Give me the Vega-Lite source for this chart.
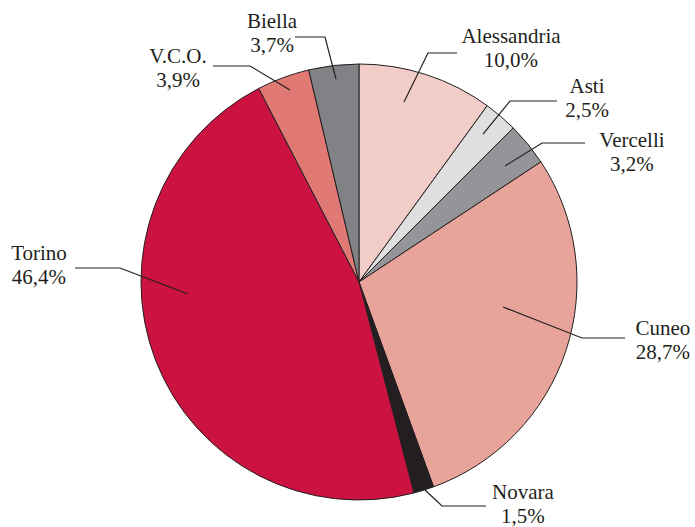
{
  "$schema": "https://vega.github.io/schema/vega-lite/v6.json",
  "width": 672,
  "height": 490,
  "padding": {"left": 23, "top": 37, "right": 0, "bottom": 0},
  "autosize": {"type": "none"},
  "background": "white",
  "config": {"view": {"stroke": null}},
  "datasets": {
    "slices": [
      {"provincia": "Alessandria", "quota": 10.0, "ord": 1},
      {"provincia": "Asti", "quota": 2.5, "ord": 2},
      {"provincia": "Vercelli", "quota": 3.2, "ord": 3},
      {"provincia": "Cuneo", "quota": 28.7, "ord": 4},
      {"provincia": "Novara", "quota": 1.5, "ord": 5},
      {"provincia": "Torino", "quota": 46.4, "ord": 6},
      {"provincia": "V.C.O.", "quota": 3.9, "ord": 7},
      {"provincia": "Biella", "quota": 3.7, "ord": 8}
    ],
    "labels": [
      {"provincia": "Alessandria", "lab": "Alessandria\n10,0%", "u": 69.72, "v": 109.63},
      {"provincia": "Asti", "lab": "Asti\n2,5%", "u": 104.6, "v": 86.7},
      {"provincia": "Vercelli", "lab": "Vercelli\n3,2%", "u": 125.2, "v": 61.9},
      {"provincia": "Cuneo", "lab": "Cuneo\n28,7%", "u": 139.4, "v": -24.3},
      {"provincia": "Novara", "lab": "Novara\n1,5%", "u": 75.2, "v": -99.5},
      {"provincia": "Torino", "lab": "Torino\n46,4%", "u": -146.8, "v": 10.1},
      {"provincia": "V.C.O.", "lab": "V.C.O.\n3,9%", "u": -83.0, "v": 100.5},
      {"provincia": "Biella", "lab": "Biella\n3,7%", "u": -39.9, "v": 116.5}
    ],
    "leaders": [
      {"provincia": "Alessandria", "p": 1, "u": 20.64, "v": 82.57},
      {"provincia": "Alessandria", "p": 2, "u": 31.65, "v": 105.05},
      {"provincia": "Alessandria", "p": 3, "u": 44.95, "v": 105.05},
      {"provincia": "Asti", "p": 1, "u": 56.88, "v": 67.89},
      {"provincia": "Asti", "p": 2, "u": 69.27, "v": 83.03},
      {"provincia": "Asti", "p": 3, "u": 90.83, "v": 83.03},
      {"provincia": "Vercelli", "p": 1, "u": 66.97, "v": 53.21},
      {"provincia": "Vercelli", "p": 2, "u": 83.94, "v": 63.76},
      {"provincia": "Vercelli", "p": 3, "u": 103.67, "v": 63.76},
      {"provincia": "Cuneo", "p": 1, "u": 66.06, "v": -11.47},
      {"provincia": "Cuneo", "p": 2, "u": 102.29, "v": -25.69},
      {"provincia": "Cuneo", "p": 3, "u": 122.02, "v": -25.69},
      {"provincia": "Novara", "p": 1, "u": 30.28, "v": -95.41},
      {"provincia": "Novara", "p": 2, "u": 38.07, "v": -102.75},
      {"provincia": "Novara", "p": 3, "u": 58.26, "v": -102.75},
      {"provincia": "Torino", "p": 1, "u": -78.44, "v": -5.5},
      {"provincia": "Torino", "p": 2, "u": -109.63, "v": 6.42},
      {"provincia": "Torino", "p": 3, "u": -130.28, "v": 6.42},
      {"provincia": "V.C.O.", "p": 1, "u": -31.65, "v": 88.07},
      {"provincia": "V.C.O.", "p": 2, "u": -50.0, "v": 99.08},
      {"provincia": "V.C.O.", "p": 3, "u": -66.97, "v": 99.08},
      {"provincia": "Biella", "p": 1, "u": -10.55, "v": 93.12},
      {"provincia": "Biella", "p": 2, "u": -15.6, "v": 112.39},
      {"provincia": "Biella", "p": 3, "u": -29.36, "v": 112.39}
    ]
  },
  "resolve": {"scale": {"color": "independent"}},
  "layer": [
    {
      "data": {"name": "slices"},
      "mark": {"type": "arc", "outerRadius": 218, "stroke": "#231f20", "strokeWidth": 1},
      "encoding": {
        "theta": {"field": "quota", "type": "quantitative", "stack": true},
        "order": {"field": "ord", "type": "quantitative"},
        "color": {
          "field": "provincia",
          "type": "nominal",
          "legend": null,
          "scale": {
            "domain": ["Alessandria", "Asti", "Vercelli", "Cuneo", "Novara", "Torino", "V.C.O.", "Biella"],
            "range": ["#f2ccc6", "#dfdfe0", "#939598", "#e8a39b", "#231f20", "#cc1240", "#e07874", "#808285"]
          }
        }
      }
    },
    {
      "data": {"name": "leaders"},
      "mark": {"type": "line", "color": "#231f20", "strokeWidth": 1.2},
      "encoding": {
        "x": {"field": "u", "type": "quantitative", "axis": null, "scale": {"domain": [-154.13, 154.13], "nice": false, "zero": false}},
        "y": {"field": "v", "type": "quantitative", "axis": null, "scale": {"domain": [-112.39, 112.39], "nice": false, "zero": false}},
        "detail": {"field": "provincia", "type": "nominal"},
        "order": {"field": "p", "type": "quantitative"}
      }
    },
    {
      "data": {"name": "labels"},
      "mark": {"type": "text", "font": "Liberation Serif", "fontSize": 21, "color": "#231f20", "align": "center", "baseline": "alphabetic", "lineBreak": "\n", "lineHeight": 24},
      "encoding": {
        "x": {"field": "u", "type": "quantitative", "axis": null, "scale": {"domain": [-154.13, 154.13], "nice": false, "zero": false}},
        "y": {"field": "v", "type": "quantitative", "axis": null, "scale": {"domain": [-112.39, 112.39], "nice": false, "zero": false}},
        "text": {"field": "lab", "type": "nominal"}
      }
    }
  ]
}
